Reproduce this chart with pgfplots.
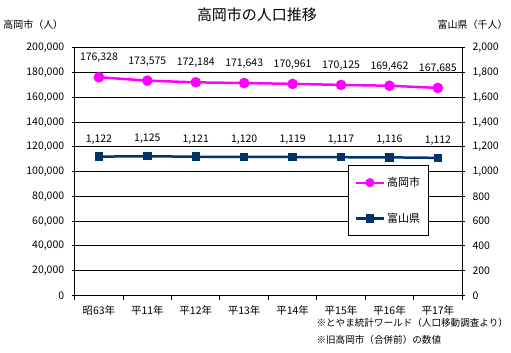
\documentclass[border=0pt]{standalone}
\usepackage{pgfplots}
\pgfplotsset{compat=1.18}
\usepackage{fontspec}
\setmainfont{Noto Sans CJK JP}
\definecolor{mag}{HTML}{FF00FF}
\definecolor{nav}{HTML}{003366}
\begin{document}
\begin{tikzpicture}[x=1pt,y=1pt]
\path[fill=white] (0,0) rectangle (511,353);
\pgfplotsset{
  base/.style={
    scale only axis, width=388pt, height=248pt,
    at={(74pt,57pt)}, anchor=south west,
    xmin=-0.5, xmax=7.5, ymin=0,
    /pgf/number format/fixed,
    /pgf/number format/precision=0,
    /pgf/number format/1000 sep={,},
    /pgf/number format/assume math mode=true,
    scaled y ticks=false,
    tick align=outside,
    major tick length=3pt,
    tick style={black, line width=1pt},
    ticklabel style={font=\fontsize{10.5}{12}\selectfont},
    axis line style={black, line width=1pt},
  }
}
\begin{axis}[base,
  ymax=200000, ytick={0,20000,...,200000},
  ymajorgrids, grid style={black, line width=1pt},
  axis y line*=left,
  xtick={0,...,7},
  xticklabels={昭63年,平11年,平12年,平13年,平14年,平15年,平16年,平17年},
  major x tick style={draw=none},
  minor xtick={-0.5,0.5,...,7.5},
  minor tick length=4pt,
  xtick pos=bottom,
  yticklabel style={xshift=-4pt},
  xticklabel style={yshift=-3.5pt},
  axis x line*=bottom,
  clip=false,
]
\addplot[mag, line width=2.5pt, mark=*, mark size=4pt,
  nodes near coords,
  every node near coord/.append style={black, font=\fontsize{10.5}{12}\selectfont, yshift=10pt}]
  coordinates {(0,176328) (1,173575) (2,172184) (3,171643) (4,170961) (5,170125) (6,169462) (7,167685)};
\end{axis}
\begin{axis}[base,
  ymax=2000, ytick={0,200,...,2000},
  axis y line*=right,
  axis x line=none,
  yticklabel style={xshift=4pt},
  clip=false,
  legend style={at={(0.706,0.528)}, anchor=north west, draw=black, line width=1pt,
    font=\fontsize{11}{13}\selectfont, row sep=21pt, inner xsep=6pt, inner ysep=10pt,
    legend cell align=left},
  legend image code/.code={\draw[#1, mark repeat=2, mark phase=2] plot coordinates {(0pt,0pt) (14pt,0pt) (28pt,0pt)};},
]
\addlegendimage{mag, line width=2pt, mark=*, mark size=3.5pt}
\addlegendentry{高岡市}
\addplot[nav, line width=2.5pt, mark=square*, mark size=3pt,
  nodes near coords,
  every node near coord/.append style={black, font=\fontsize{10.5}{12}\selectfont, yshift=8pt}]
  coordinates {(0,1122) (1,1125) (2,1121) (3,1120) (4,1119) (5,1117) (6,1116) (7,1112)};
\addlegendentry{富山県}
\end{axis}
\node[font=\fontsize{15}{18}\selectfont] at (256.5,338) {高岡市の人口推移};
\node[font=\fontsize{10}{12}\selectfont] at (32.5,328) {高岡市（人）};
\node[font=\fontsize{10}{12}\selectfont] at (472.5,328) {富山県（千人）};
\node[font=\fontsize{9.6}{11}\selectfont, anchor=west, inner sep=0pt] at (316,29.2) {※とやま統計ワールド（人口移動調査より）};
\node[font=\fontsize{9.6}{11}\selectfont, anchor=west, inner sep=0pt] at (316,12.3) {※旧高岡市（合併前）の数値};
\end{tikzpicture}
\end{document}
